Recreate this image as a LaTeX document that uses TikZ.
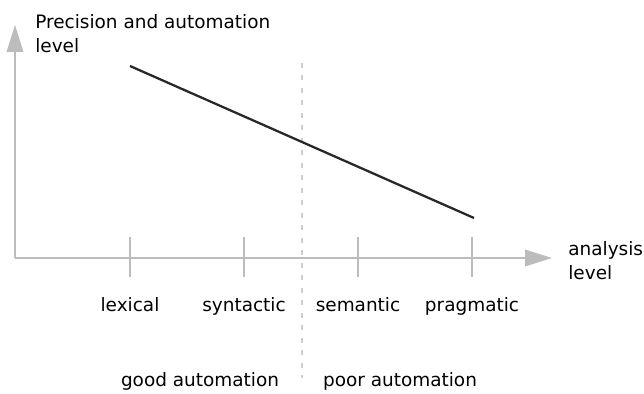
\documentclass[tikz,border=0pt]{standalone}
\usepackage{fontspec}
\setmainfont{DejaVu Sans}
\usetikzlibrary{arrows.meta,positioning}
\definecolor{axisgray}{RGB}{188,188,188}
\definecolor{dashgray}{RGB}{205,205,205}
\definecolor{trendblack}{RGB}{40,40,40}
\begin{document}
\begin{tikzpicture}[x=0.02cm, y=-0.02cm,
	every node/.style={font=\fontsize{10.5}{13.6}\selectfont, inner sep=0pt},
	axis/.style={draw=axisgray, line width=1.2pt, -{Triangle[length=0.54cm,width=0.33cm]}},
	tickmark/.style={draw=axisgray, line width=1.2pt},
	divider/.style={draw=dashgray, line width=1.1pt, dash pattern=on 0.1cm off 0.15cm},
	trend/.style={draw=trendblack, line width=1.3pt}]
	\useasboundingbox (0,0) rectangle (644,394);
	\coordinate (O) at (15,258);
	\coordinate (Ytop) at (15,25);
	\coordinate (Xend) at (552,258);
	\coordinate (Dtop) at (302,63);
	\coordinate (Dbot) at (302,378);
	\coordinate (high) at (130,66);
	\coordinate (low) at (474,218);

	\draw[axis] (O) -- (Ytop);
	\draw[axis] (O) -- (Xend);
	\foreach \x/\name in {130/lexical,244/syntactic,358/semantic,472/pragmatic}{
		\draw[tickmark] (\x,237) -- (\x,277);
		\node (\name) [anchor=base] at (\x,311) {\name};
	}
	\draw[divider] (Dtop) -- (Dbot);
	\draw[trend] (high) -- (low);

	\node (ylabel) [anchor=north west, align=left] at (35,14) {Precision and automation\\level};
	\node (xlabel) [anchor=north west, align=left] at (568,241) {analysis\\level};
	\node (good) [anchor=base] at (200,386) {good automation};
	\node (poor) [anchor=base] at (400,386) {poor automation};
\end{tikzpicture}
\end{document}
